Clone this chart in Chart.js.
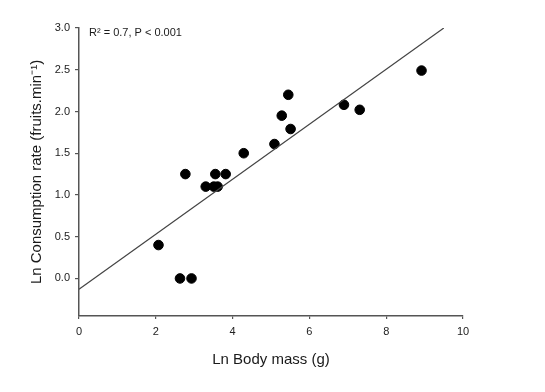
<!DOCTYPE html>
<html><head><meta charset="utf-8">
<script src="https://cdn.jsdelivr.net/npm/chart.js@4/dist/chart.umd.min.js"></script>
<style>html,body{margin:0;padding:0;background:#fff;}#wrap{width:545px;height:392px;}</style>
</head><body><div id="wrap"><canvas id="c" width="545" height="392"></canvas></div>
<script>
// Data
const bodyMass = [2.07, 2.63, 2.93, 2.77, 3.30, 3.51, 3.61, 3.55, 3.82, 4.29, 5.09, 5.28, 5.45, 5.51, 6.90, 7.31, 8.92];
const consumption = [0.40, 0.00, 0.00, 1.25, 1.10, 1.10, 1.10, 1.25, 1.25, 1.50, 1.61, 1.95, 2.20, 1.79, 2.08, 2.02, 2.49];
const fitX = [0, 9.5];
const fitY = [-0.13, 3.0];
const xTicks = [0, 2, 4, 6, 8, 10];
const yTicks = [0, 0.5, 1.0, 1.5, 2.0, 2.5, 3.0];
const annotationText = "R\u00B2 = 0.7, P < 0.001";
const xTitle = "Ln Body mass (g)";
const yTitle = "Ln Consumption rate (fruits.min\u207B\u00B9)";

const FONT = "'Liberation Sans', Arial, sans-serif";
const annot = {
  id: 'annot',
  afterDraw(chart) {
    const ctx = chart.ctx, a = chart.chartArea;
    ctx.save();
    ctx.font = "11px " + FONT;
    ctx.fillStyle = "#1a1a1a";
    ctx.textBaseline = "middle";
    ctx.textAlign = "left";
    ctx.fillText(annotationText, a.left + 10, a.top + 5);
    ctx.restore();
  }
};

new Chart(document.getElementById('c'), {
  type: 'scatter',
  data: {
    datasets: [
      {
        type: 'line',
        data: fitX.map((x, i) => ({x: x, y: fitY[i]})),
        borderColor: '#444',
        borderWidth: 1.2,
        pointRadius: 0,
        fill: false
      },
      {
        data: bodyMass.map((x, i) => ({x: x, y: consumption[i]})),
        backgroundColor: '#000',
        borderColor: '#000',
        pointRadius: 4.8,
        pointHoverRadius: 4.8
      }
    ]
  },
  options: {
    responsive: false,
    animation: false,
    events: [],
    layout: { padding: { left: 24, right: 82, top: 28, bottom: 19 } },
    plugins: { legend: { display: false }, tooltip: { enabled: false } },
    scales: {
      x: {
        type: 'linear', min: 0, max: 10,
        afterBuildTicks(s) { s.ticks = xTicks.map(v => ({value: v})); },
        afterFit(s) { s.height = 57; },
        grid: { display: true, drawOnChartArea: false, drawTicks: true, tickLength: 3, color: '#555', lineWidth: 1.2 },
        border: { display: true, color: '#555', width: 1.5 },
        ticks: { font: { family: FONT, size: 11 }, color: '#222', padding: 6, maxRotation: 0 },
        title: { display: true, text: xTitle, font: { family: FONT, size: 15 }, color: '#1a1a1a', padding: { top: 4 } }
      },
      y: {
        type: 'linear', min: -0.45, max: 3.0,
        afterBuildTicks(s) { s.ticks = yTicks.map(v => ({value: v})); },
        afterFit(s) { s.width = 55; },
        grid: { display: true, drawOnChartArea: false, drawTicks: true, tickLength: 4, color: '#555', lineWidth: 1.2 },
        border: { display: true, color: '#555', width: 1.5 },
        ticks: { font: { family: FONT, size: 11 }, color: '#222', padding: 5, callback: v => v.toFixed(1) },
        title: { display: true, text: yTitle, font: { family: FONT, size: 15 }, color: '#1a1a1a', padding: { bottom: 4 } }
      }
    }
  },
  plugins: [annot]
});
</script></body></html>
